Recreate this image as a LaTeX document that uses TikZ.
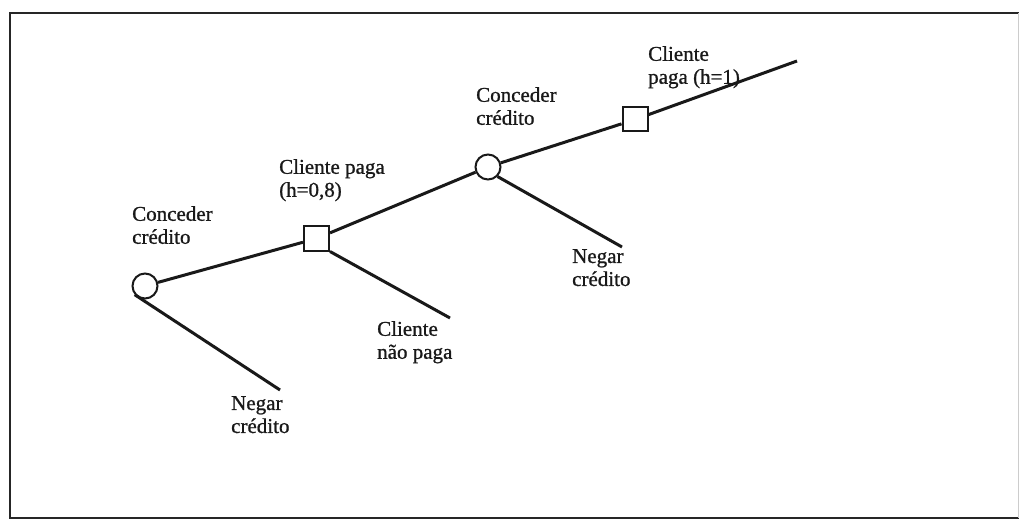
\documentclass[tikz,border=0pt]{standalone}
\usepackage{fontspec}
\setmainfont{Liberation Serif}
\newfontfamily\labelfont[FakeBold=1]{Liberation Serif}
\usepackage{tikz}
\usetikzlibrary{positioning}
\usepackage{xcolor}
\colorlet{tree_line}{black!90}
\colorlet{frame_line}{black!85}
\colorlet{frame_faint}{black!20}
\colorlet{label_text}{black!90}

\begin{document}
\begin{tikzpicture}[
    x=1pt, y=-1pt,
    frame/.style={color=frame_line, line width=2.8pt},
    branch/.style={color=tree_line, line width=3pt},
    circle-node/.style={circle, draw=tree_line, fill=white, line width=2pt, minimum size=25pt, inner sep=0pt},
    square-node/.style={rectangle, draw=tree_line, fill=white, line width=2pt, minimum width=25pt, minimum height=24pt, inner sep=0pt},
    node-label/.style={color=label_text, font=\labelfont\fontsize{21}{23}\selectfont, align=left, anchor=north west, inner sep=0pt},
  ]
  \useasboundingbox (0,0) rectangle (1024,521);

  %%%%%%%%%% Frame %%%%%%%%%%
  \draw[frame] (1019,13) -- (10,13) -- (10,518) -- (1019,518);
  \draw[color=frame_faint, line width=1pt] (1018,13) -- (1018,518);

  %%%%%%%%%% Tree nodes %%%%%%%%%%
  \node[circle-node] (c1) at (145,286) {};
  \node[square-node] (s1) at (316.5,238.5) {};
  \node[circle-node] (c2) at (488,167) {};
  \node[square-node] (s2) at (635,119.5) {};

  \coordinate (n1-end) at (280,390);
  \coordinate (np-end) at (450,318);
  \coordinate (n2-end) at (622,247);
  \coordinate (p1-end) at (797,61);

  %%%%%%%%%% Branches %%%%%%%%%%
  \foreach \from/\to in {c1/s1, s1/c2, c2/s2, s2/p1-end, c1.220/n1-end, s1.south east/np-end, c2.-45/n2-end} {
    \draw[branch] (\from) -- (\to);
  }

  %%%%%%%%%% Labels %%%%%%%%%%
  \node[node-label] (l1) at (132,206) {Conceder\\crédito};
  \node[node-label] (l2) at (279,159) {Cliente paga\\(h=0,8)};
  \node[node-label] (l3) at (377,321) {Cliente\\não paga};
  \node[node-label] (l4) at (231,396) {Negar\\crédito};
  \node[node-label] (l5) at (476,87) {Conceder\\crédito};
  \node[node-label] (l6) at (572,249) {Negar\\crédito};
  \node[node-label] (l7) at (648,46) {Cliente\\paga (h=1)};

\end{tikzpicture}
\end{document}
